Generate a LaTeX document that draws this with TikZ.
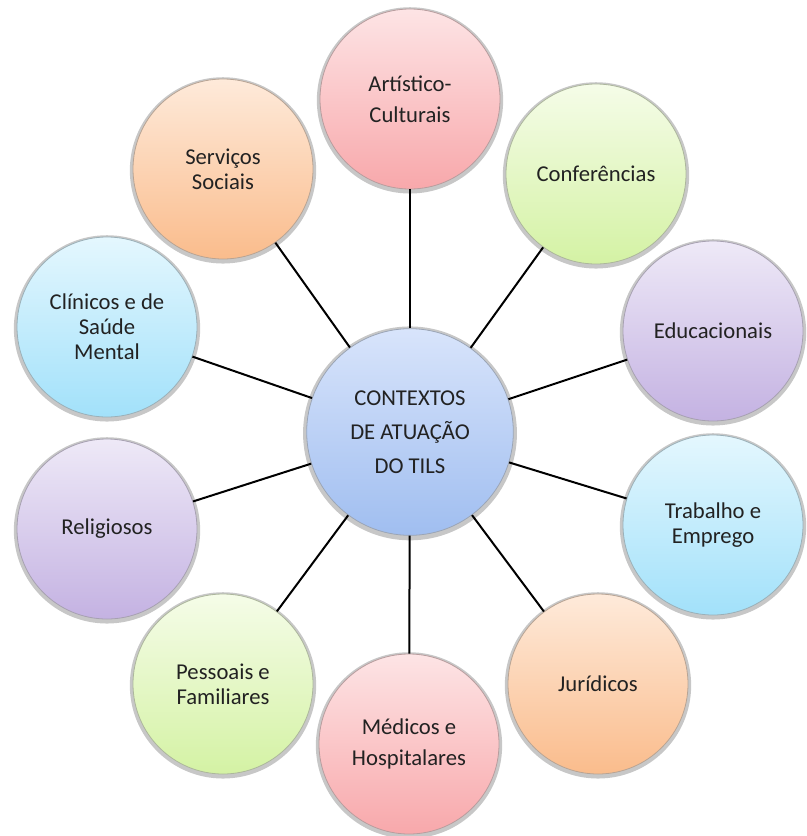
\documentclass[tikz,border=0pt]{standalone}
\usepackage{fontspec}
\usepackage{tikz}
\setmainfont{Carlito}
\usetikzlibrary{shadows}
\definecolor{rosaclaro}{RGB}{253,228,229}
\definecolor{rosaescuro}{RGB}{248,168,171}
\definecolor{verdeclaro}{RGB}{245,252,232}
\definecolor{verdeescuro}{RGB}{212,242,164}
\definecolor{lilasclaro}{RGB}{238,233,247}
\definecolor{lilasescuro}{RGB}{196,178,226}
\definecolor{azulclaro}{RGB}{228,247,254}
\definecolor{azulescuro}{RGB}{162,225,250}
\definecolor{laranjaclaro}{RGB}{254,234,218}
\definecolor{laranjaescuro}{RGB}{250,188,140}
\definecolor{centroclaro}{RGB}{216,228,251}
\definecolor{centroescuro}{RGB}{160,190,240}
\definecolor{texto}{RGB}{34,34,34}
\tikzstyle{every node}=[font=\fontsize{17}{18.75}\selectfont, text=texto, align=center]
\tikzset{
  bolha/.style 2 args={circle, minimum size=135pt, inner sep=0pt, line width=0.6pt,
    top color=#1, bottom color=#2, draw=#2!55!black!60,
    drop shadow={shadow xshift=0pt, shadow yshift=-1pt, shadow scale=1.035, opacity=0.22, fill=black}},
  ligacao/.style={line width=1.5pt, black}
}

\begin{document}
\begin{tikzpicture}[x=0.75pt,y=-0.75pt]
  \useasboundingbox (0,0) rectangle (807,836);
  % circulo central
  \node [bolha={centroclaro}{centroescuro}, minimum size=155pt, font=\fontsize{17}{25.5}\selectfont] (centro) at (410,432) {CONTEXTOS\\DE ATUAÇÃO\\DO TILS};
  % contextos em volta
  \node [bolha={rosaclaro}{rosaescuro}, font=\fontsize{17}{23.25}\selectfont] (artistico) at (410,99) {Artístico-\\Culturais};
  \node [bolha={verdeclaro}{verdeescuro}] (conferencias) at (596,174) {Conferências};
  \node [bolha={lilasclaro}{lilasescuro}] (educacionais) at (713,331) {Educacionais};
  \node [bolha={azulclaro}{azulescuro}] (trabalho) at (713,525) {Trabalho e\\Emprego};
  \node [bolha={laranjaclaro}{laranjaescuro}] (juridicos) at (598,684) {Jurídicos};
  \node [bolha={rosaclaro}{rosaescuro}, font=\fontsize{17}{23.25}\selectfont] (medicos) at (409,744) {Médicos e\\Hospitalares};
  \node [bolha={verdeclaro}{verdeescuro}] (pessoais) at (223,684) {Pessoais e\\Familiares};
  \node [bolha={lilasclaro}{lilasescuro}] (religiosos) at (107,529) {Religiosos};
  \node [bolha={azulclaro}{azulescuro}] (clinicos) at (107,327) {Clínicos e de\\Saúde\\Mental};
  \node [bolha={laranjaclaro}{laranjaescuro}] (servicos) at (223,169) {Serviços\\Sociais};
  % ligacoes
  \draw [ligacao] (centro) -- (artistico);
  \draw [ligacao] (centro) -- (conferencias);
  \draw [ligacao] (centro) -- (educacionais);
  \draw [ligacao] (centro) -- (trabalho);
  \draw [ligacao] (centro) -- (juridicos);
  \draw [ligacao] (centro) -- (medicos);
  \draw [ligacao] (centro) -- (pessoais);
  \draw [ligacao] (centro) -- (religiosos);
  \draw [ligacao] (centro) -- (clinicos);
  \draw [ligacao] (centro) -- (servicos);
\end{tikzpicture}
\end{document}
